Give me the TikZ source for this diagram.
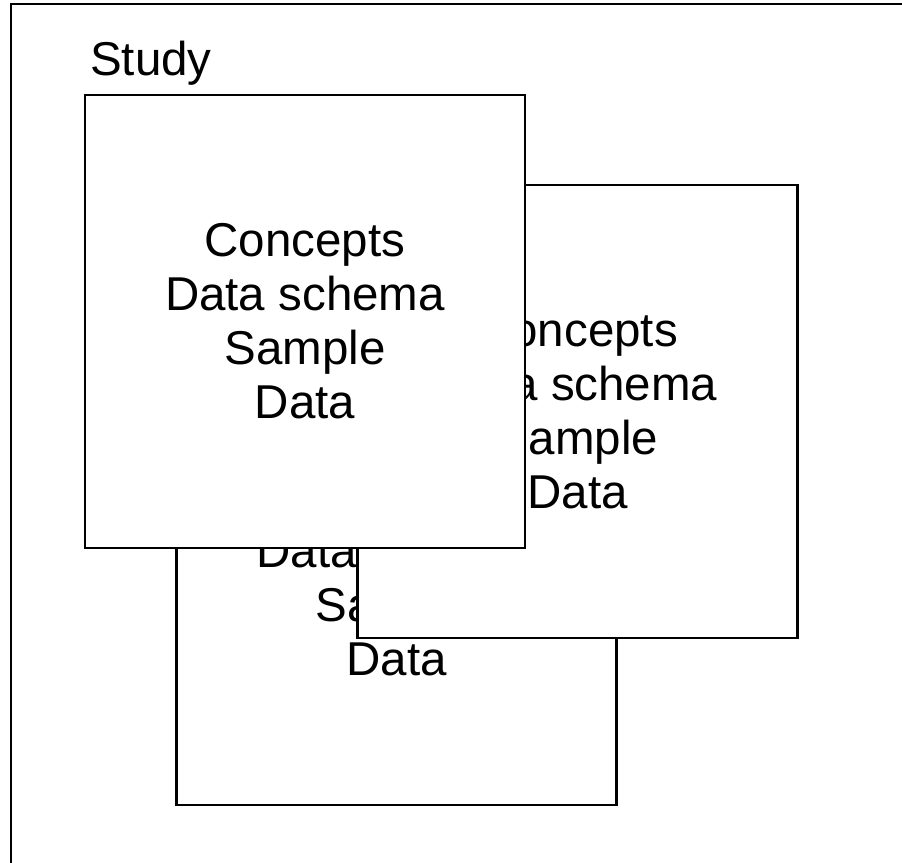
\documentclass[tikz,border=0pt]{standalone}
\usepackage{fontspec}
\setmainfont{Liberation Sans}
\begin{document}
\begin{tikzpicture}[x=1pt,y=-1pt,
  panel/.style={draw=black,line width=2.2pt,fill=white,inner sep=0pt,
    minimum width=440pt,minimum height=453pt,align=center,
    font=\fontsize{47.5}{54}\selectfont},
  lbl/.style={inner sep=0pt,font=\fontsize{47.5}{54}\selectfont}]
\useasboundingbox (0,0) rectangle (902,862);
\clip (0,0) rectangle (902,862);
\node[draw=black,line width=2.2pt,inner sep=0pt,minimum width=900pt,minimum height=867pt,anchor=north west] (frame) at (10,3) {};
\node[lbl,anchor=base west] (study) at (90,75) {Study};
\node[panel] (boxC) at (396.5,578.5) {Concepts\\Data schema\\Sample\\Data};
\node[panel] (boxB) at (577.5,411.5) {Concepts\\Data schema\\Sample\\Data};
\node[panel] (boxA) at (305,321.5) {Concepts\\Data schema\\Sample\\Data};
\end{tikzpicture}
\end{document}
